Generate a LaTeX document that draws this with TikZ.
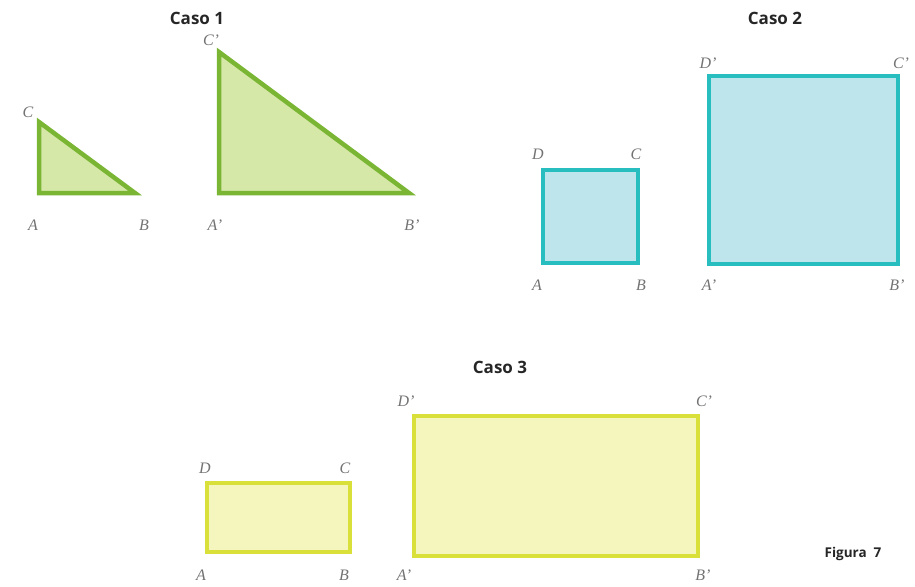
\documentclass[tikz,border=0pt]{standalone}
\usepackage{fontspec}
\setmainfont{Liberation Serif}
\newfontfamily\headfont{Open Sans}
\begin{document}
\begin{tikzpicture}[x=1pt,y=-1pt,
  lbl/.style={font=\itshape\fontsize{16}{16}\selectfont, text=black!55, inner sep=0pt},
  title/.style={font=\headfont\bfseries\fontsize{17}{17}\selectfont, text=black!85, inner sep=0pt},
  gshape/.style={draw=grnS, fill=grnF, line width=4.5pt, line join=miter},
  cshape/.style={draw=cyS, fill=cyF, line width=4.5pt, line join=miter},
  yshape/.style={draw=yeS, fill=yeF, line width=4.5pt, line join=miter}]
\definecolor{grnS}{RGB}{122,182,52}
\definecolor{grnF}{RGB}{214,232,168}
\definecolor{cyS}{RGB}{40,190,192}
\definecolor{cyF}{RGB}{190,228,236}
\definecolor{yeS}{RGB}{218,224,58}
\definecolor{yeF}{RGB}{245,245,190}
\useasboundingbox (0,0) rectangle (915,586);
% Caso 1
\node[title] (t1) at (197,18) {Caso 1};
\coordinate (a1) at (39,193); \coordinate (b1) at (135,193); \coordinate (c1) at (39,122);
\draw[gshape] (a1) -- (b1) -- (c1) -- cycle;
\node[lbl] (la1) at (33,225) {A};
\node[lbl] (lb1) at (144,225) {B};
\node[lbl] (lc1) at (28,112) {C};
\coordinate (a1p) at (219,193); \coordinate (b1p) at (409,193); \coordinate (c1p) at (219,52);
\draw[gshape] (a1p) -- (b1p) -- (c1p) -- cycle;
\node[lbl] (la1p) at (215,225) {A’};
\node[lbl] (lb1p) at (412,225) {B’};
\node[lbl] (lc1p) at (211,40) {C’};
% Caso 2
\node[title] (t2) at (775,18) {Caso 2};
\draw[cshape] (543,170) rectangle (638,263);
\node[lbl] (la2) at (537,285) {A};
\node[lbl] (lb2) at (641,285) {B};
\node[lbl] (lc2) at (636,154) {C};
\node[lbl] (ld2) at (538,154) {D};
\draw[cshape] (709,76) rectangle (898,264);
\node[lbl] (la2p) at (709,285) {A’};
\node[lbl] (lb2p) at (897,285) {B’};
\node[lbl] (lc2p) at (901,63) {C’};
\node[lbl] (ld2p) at (708,63) {D’};
% Caso 3
\node[title] (t3) at (500,367) {Caso 3};
\draw[yshape] (207,483) rectangle (350,552);
\node[lbl] (la3) at (201,575) {A};
\node[lbl] (lb3) at (344,575) {B};
\node[lbl] (lc3) at (345,468) {C};
\node[lbl] (ld3) at (205,468) {D};
\draw[yshape] (414,416) rectangle (698,556);
\node[lbl] (la3p) at (404,575) {A’};
\node[lbl] (lb3p) at (703,575) {B’};
\node[lbl] (lc3p) at (704,401) {C’};
\node[lbl] (ld3p) at (406,401) {D’};
\node[title, font=\headfont\bfseries\fontsize{13.5}{13.5}\selectfont] (fig) at (853,554) {Figura\ \ 7};
\end{tikzpicture}
\end{document}
